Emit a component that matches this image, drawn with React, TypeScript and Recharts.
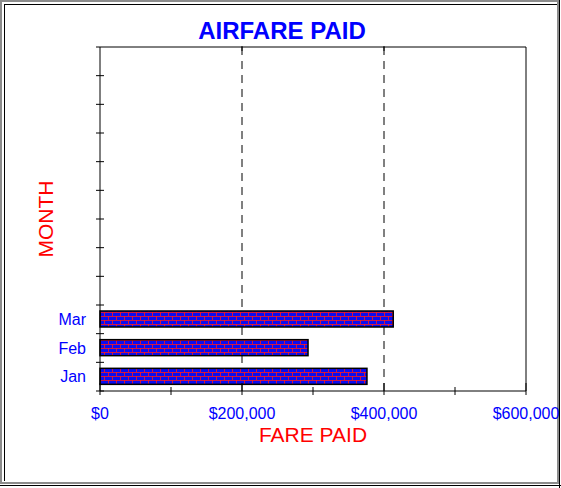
import React from "react"
import { BarChart, Bar, XAxis, YAxis, CartesianGrid } from "recharts"

// Values
const MONTHS = ["Jan", "Feb", "Mar", "Apr", "May", "Jun", "Jul", "Aug", "Sep", "Oct", "Nov", "Dec"]
const FARES = [376000, 293000, 413000]
const X_TICKS = [0, 100000, 200000, 300000, 400000, 500000, 600000]
const GRID_TICKS = [200000, 400000]

const data = MONTHS.map((month, i) => ({ month, fare: FARES[i] ?? null }))

const W = 561
const H = 488
const PLOT_LEFT = 100
const PLOT_TOP = 47
const PLOT_BOTTOM = 391
const BAND = (PLOT_BOTTOM - PLOT_TOP) / MONTHS.length
const FONT = '"Liberation Sans", Arial, sans-serif'
const BLUE = "#0000ff"
const RED = "#ff0000"

const fmtMoney = (v: number) => "$" + v.toLocaleString("en-US")

function MonthTick(props: any) {
  const { x, y, payload, index } = props
  const hasValue = FARES[index] != null
  return (
    <g>
      <line x1={PLOT_LEFT - 4} x2={PLOT_LEFT + 4} y1={y + BAND / 2} y2={y + BAND / 2} stroke="#000" />
      {index === MONTHS.length - 1 && (
        <line x1={PLOT_LEFT - 4} x2={PLOT_LEFT} y1={y - BAND / 2} y2={y - BAND / 2} stroke="#000" />
      )}
      {hasValue && (
        <text x={x} y={y} dy="0.36em" textAnchor="end" fill={BLUE} fontSize={16} fontFamily={FONT}>
          {payload.value}
        </text>
      )}
    </g>
  )
}

function FareTick(props: any) {
  const { x, y, payload } = props
  const major = payload.value % 200000 === 0
  const inner = GRID_TICKS.includes(payload.value)
  return (
    <g>
      <line x1={x} x2={x} y1={PLOT_BOTTOM - (major ? 8 : 4)} y2={PLOT_BOTTOM + 4} stroke="#000" />
      {inner && <line x1={x} x2={x} y1={PLOT_TOP - 1} y2={PLOT_TOP + 4} stroke="#000" />}
      {major && (
        <text x={x} y={y} dy="0.71em" textAnchor="middle" fill={BLUE} fontSize={16} fontFamily={FONT}>
          {fmtMoney(payload.value)}
        </text>
      )}
    </g>
  )
}

function BrickBar(props: any) {
  const { x, y, width, height } = props
  if (!width || width <= 0) return null
  return <rect x={x} y={y} width={width} height={height} fill="url(#brick)" stroke="#000" strokeWidth={1.5} />
}

export default function App() {
  return (
    <div style={{ position: "absolute", left: 0, top: 0, width: W, height: H, background: "#fff", fontFamily: FONT }}>
      <svg width={0} height={0} style={{ position: "absolute" }}>
        <defs>
          <pattern id="brick" width={8} height={8} patternUnits="userSpaceOnUse">
            <rect width={8} height={8} fill="#0c0cf0" />
            <line x1={0} x2={8} y1={0.5} y2={0.5} stroke="#ff1a1a" strokeWidth={0.8} />
            <line x1={0} x2={8} y1={4.5} y2={4.5} stroke="#ff1a1a" strokeWidth={0.8} />
            <line x1={0.5} x2={0.5} y1={0} y2={4} stroke="#ff1a1a" strokeWidth={0.8} />
            <line x1={4.5} x2={4.5} y1={4} y2={8} stroke="#ff1a1a" strokeWidth={0.8} />
          </pattern>
        </defs>
      </svg>

      {/* outer frame */}
      <div style={{ position: "absolute", left: 0, top: 0, width: 559, height: 484, border: "2px solid #8c8c8c", boxSizing: "border-box" }} />
      <div style={{ position: "absolute", left: 4, top: 4, width: 552, height: 476, borderLeft: "1px solid #000", borderTop: "1px solid #000" }} />
      <div style={{ position: "absolute", left: 559, top: 0, width: 1, height: 488, background: "#000" }} />
      <div style={{ position: "absolute", left: 0, top: 485, width: 561, height: 1, background: "#000" }} />

      <div style={{ position: "absolute", left: 0, top: 0 }}>
        <BarChart
          width={W}
          height={H}
          layout="vertical"
          data={data}
          barSize={16}
          margin={{ top: PLOT_TOP - 1, right: 34, bottom: 37, left: 40 }}
        >
          <CartesianGrid horizontal={false} verticalValues={GRID_TICKS} stroke="#000" strokeDasharray="8 6" />
          <XAxis
            type="number"
            domain={[0, 600000]}
            ticks={X_TICKS}
            interval={0}
            height={60}
            tickSize={4}
            tickMargin={13}
            tickLine={false}
            axisLine={{ stroke: "#000" }}
            tick={<FareTick />}
          />
          <XAxis
            xAxisId="top"
            orientation="top"
            type="number"
            domain={[0, 600000]}
            height={1}
            tickSize={1}
            tick={false}
            tickLine={false}
            axisLine={{ stroke: "#000" }}
          />
          <YAxis
            type="category"
            dataKey="month"
            reversed
            width={60}
            interval={0}
            tickSize={4}
            tickMargin={10}
            tickLine={false}
            axisLine={{ stroke: "#000" }}
            tick={<MonthTick />}
          />
          <YAxis
            yAxisId="right"
            orientation="right"
            type="category"
            dataKey="month"
            reversed
            width={1}
            tickSize={1}
            tick={false}
            tickLine={false}
            axisLine={{ stroke: "#000" }}
          />
          <Bar dataKey="fare" shape={<BrickBar />} isAnimationActive={false} />
        </BarChart>
      </div>

      <div style={{ position: "absolute", left: 0, width: 561, top: 17, textAlign: "center", color: BLUE, fontSize: 24, fontWeight: "bold", lineHeight: "28px", paddingLeft: 3, boxSizing: "border-box" }}>
        AIRFARE PAID
      </div>
      <div style={{ position: "absolute", left: 213, width: 200, top: 423, textAlign: "center", color: RED, fontSize: 21, lineHeight: "24px" }}>
        FARE PAID
      </div>
      <div style={{ position: "absolute", left: 46, top: 219, width: 0, height: 0 }}>
        <div style={{ position: "absolute", left: -100, top: -12, width: 200, textAlign: "center", color: RED, fontSize: 21, lineHeight: "24px", transform: "rotate(-90deg)" }}>
          MONTH
        </div>
      </div>
    </div>
  )
}
